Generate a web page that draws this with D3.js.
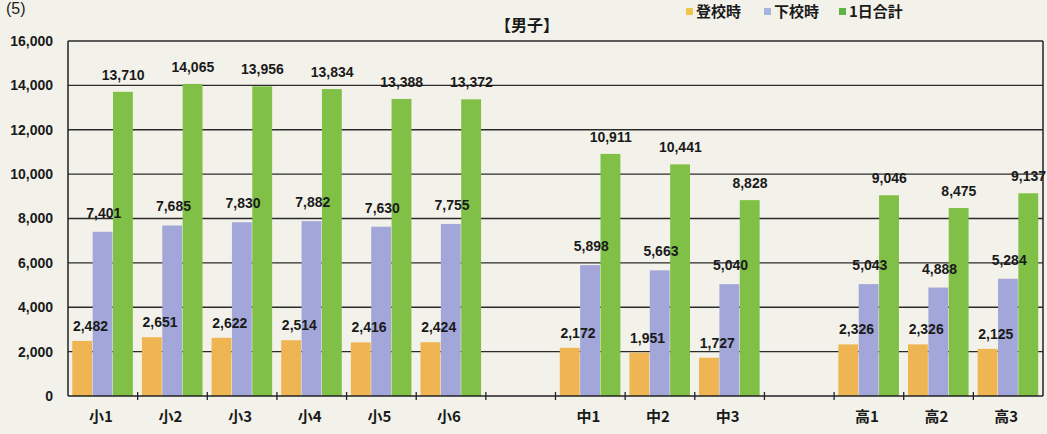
<!DOCTYPE html>
<html><head><meta charset="utf-8">
<script src="https://cdn.jsdelivr.net/npm/d3@7"></script>
<style>
html,body{margin:0;padding:0;background:#f3f2ea;}
svg{display:block;}
</style></head>
<body>
<svg id="chart" width="1047" height="434"></svg>
<script>
const slots = ["小1","小2","小3","小4","小5","小6","_gap1","中1","中2","中3","_gap2","高1","高2","高3"];
const grades = ["小1","小2","小3","小4","小5","小6","中1","中2","中3","高1","高2","高3"];
const seriesNames = ["登校時","下校時","1日合計"];
const tokou = [2482,2651,2622,2514,2416,2424,2172,1951,1727,2326,2326,2125];
const gekou = [7401,7685,7830,7882,7630,7755,5898,5663,5040,5043,4888,5284];
const total  = [13710,14065,13956,13834,13388,13372,10911,10441,8828,9046,8475,9137];
const yTicks = [0,2000,4000,6000,8000,10000,12000,14000,16000];

const colors = ["#efb552","#a2a6d8","#80c046"];
const legendColors = ["#f0c64a","#a8b4dc","#5fb346"];
const seriesValues = [tokou, gekou, total];
const labelDx = [8, 1, 0];
const labelGap = [10, 14, 12];

const svg = d3.select("#chart");
const pLeft = 68, pRight = 1043, pTop = 41, pBottom = 396;

const x0 = d3.scaleBand().domain(slots).range([pLeft, pRight]).paddingInner(0).paddingOuter(0);
const x1 = d3.scaleBand().domain(seriesNames).range([0, x0.bandwidth()]).paddingInner(0).paddingOuter(0.21);
const y = d3.scaleLinear().domain([0,16000]).range([pBottom, pTop]);

const numFont = "'Liberation Sans', Arial, sans-serif";
const cjkFont = "'Noto Sans CJK JP', 'Noto Sans CJK SC', sans-serif";
const fmt = d3.format(",");

// (5) at top-left
svg.append("text").attr("x", 6).attr("y", 14).attr("font-family", numFont)
  .attr("font-size", 16).attr("fill", "#222").text("(5)");

// gridlines
svg.append("g").selectAll("line").data(yTicks.filter(d => d > 0))
  .join("line")
  .attr("x1", pLeft).attr("x2", pRight)
  .attr("y1", d => y(d)).attr("y2", d => y(d))
  .attr("stroke", "#2a2a2a").attr("stroke-width", 1.3);

// y axis labels
const yAxis = d3.axisLeft(y).tickValues(yTicks).tickFormat(fmt).tickSize(0).tickPadding(15);
const gy = svg.append("g").attr("transform", `translate(${pLeft},0)`).call(yAxis);
gy.select(".domain").remove();
gy.selectAll("text").attr("font-family", numFont).attr("font-weight", "bold")
  .attr("font-size", 14).attr("fill", "#1a1a1a");

// bars
const rows = grades.map((g, i) => ({grade: g, vals: seriesValues.map(s => s[i])}));
const groups = svg.append("g").selectAll("g").data(rows).join("g")
  .attr("transform", d => `translate(${x0(d.grade)},0)`);
groups.selectAll("rect").data(d => d.vals.map((v, k) => ({k, v})))
  .join("rect")
  .attr("x", d => x1(seriesNames[d.k]))
  .attr("width", x1.bandwidth() - 0.5)
  .attr("y", d => y(d.v))
  .attr("height", d => y(0) - y(d.v))
  .attr("fill", d => colors[d.k]);

// frame: left, right, bottom
svg.append("line").attr("x1", pLeft).attr("x2", pLeft).attr("y1", pTop).attr("y2", pBottom)
  .attr("stroke", "#222").attr("stroke-width", 1.5);
svg.append("line").attr("x1", pRight).attr("x2", pRight).attr("y1", pTop).attr("y2", pBottom)
  .attr("stroke", "#222").attr("stroke-width", 1.5);
svg.append("line").attr("x1", pLeft).attr("x2", pRight).attr("y1", pBottom).attr("y2", pBottom)
  .attr("stroke", "#222").attr("stroke-width", 1.6);

// x ticks at slot boundaries
const bounds = slots.map(s => x0(s)).concat([x0(slots[slots.length-1]) + x0.bandwidth()]);
svg.append("g").selectAll("line").data(bounds.slice(1, -1)).join("line")
  .attr("x1", d => d).attr("x2", d => d).attr("y1", pBottom - 4).attr("y2", pBottom + 4)
  .attr("stroke", "#222").attr("stroke-width", 1.3);

// x labels
svg.append("g").selectAll("text").data(grades).join("text")
  .attr("x", d => x0(d) + x0.bandwidth() / 2 - 2)
  .attr("y", 422)
  .attr("text-anchor", "middle")
  .attr("font-family", cjkFont).attr("font-weight", "bold").attr("font-size", 15)
  .attr("fill", "#1a1a1a").text(d => d);

// value labels
groups.selectAll("text").data(d => d.vals.map((v, k) => ({k, v})))
  .join("text")
  .attr("x", d => x1(seriesNames[d.k]) + x1.bandwidth() / 2 + labelDx[d.k])
  .attr("y", d => y(d.v) - labelGap[d.k])
  .attr("text-anchor", "middle")
  .attr("font-family", numFont).attr("font-weight", "bold").attr("font-size", 14)
  .attr("fill", "#1a1a1a").text(d => fmt(d.v));

// title
svg.append("text").attr("x", 527).attr("y", 31).attr("text-anchor", "middle")
  .attr("font-family", cjkFont).attr("font-weight", "bold").attr("font-size", 16)
  .attr("fill", "#1a1a1a").text("【男子】");

// legend
const legendX = [686, 764, 839];
const lg = svg.append("g").selectAll("g").data(seriesNames).join("g")
  .attr("transform", (d, i) => `translate(${legendX[i]},0)`);
lg.append("rect").attr("x", 0).attr("y", 8).attr("width", 7).attr("height", 7)
  .attr("fill", (d, i) => legendColors[i]);
lg.append("text").attr("x", 10).attr("y", 17)
  .attr("font-family", cjkFont).attr("font-weight", "bold").attr("font-size", 15)
  .attr("fill", "#1a1a1a").text(d => d);
</script>
</body></html>
